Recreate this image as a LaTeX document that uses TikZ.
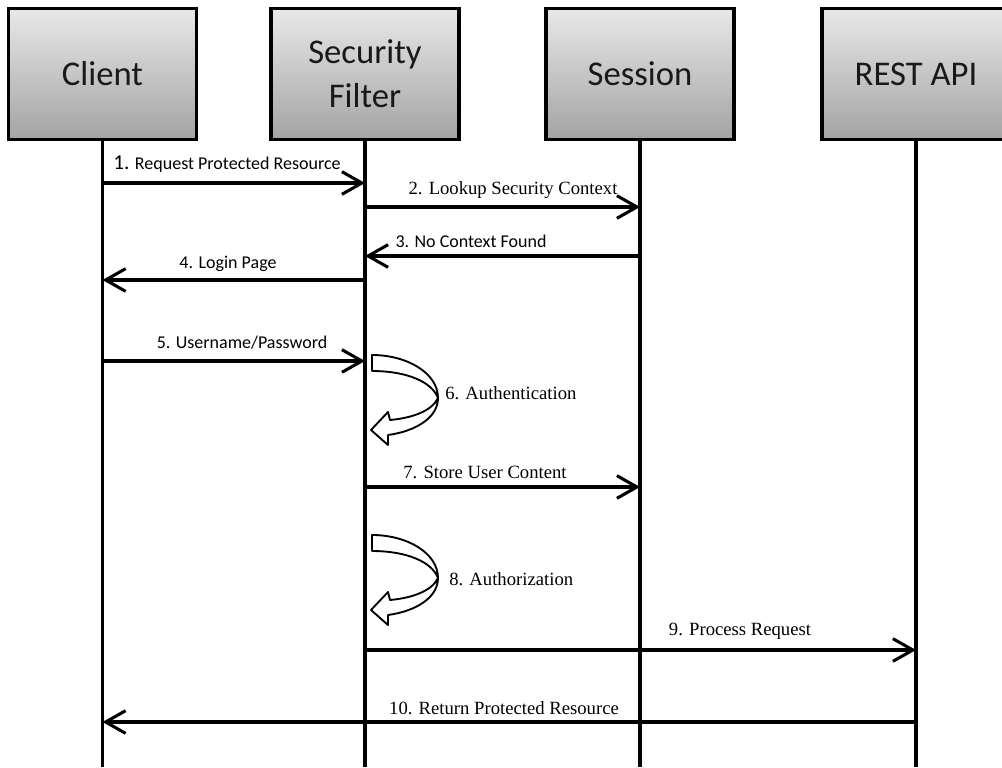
\documentclass[tikz,border=0pt]{standalone}
\usepackage{fontspec}
\setmainfont{Carlito}
\newfontfamily\slabfont{Liberation Serif}
\usetikzlibrary{arrows.meta}

\begin{document}
\begin{tikzpicture}[x=0.75pt,y=-0.75pt,
    actor/.style={draw, line width=2.3pt, top color=black!9, bottom color=black!36, minimum width=141pt, minimum height=98pt, align=center, font=\fontsize{26}{33}\selectfont, text=black!90},
    life/.style={line width=2.3pt},
    msg/.style={line width=2.3pt, -{Straight Barb[length=15pt,width=17pt]}},
    lbl/.style={font=\fontsize{13.5}{16}\selectfont, text=black, inner sep=0pt},
    slbl/.style={font=\slabfont\fontsize{14}{16}\selectfont, text=black, inner sep=0pt},
    selfcall/.pic={
      \draw[line width=1.4pt, fill=white, line join=round]
        (0,16) .. controls (35,16) and (60,27) .. (66,43)
        .. controls (60,56) and (40,63) .. (18,65)
        -- (16,57) -- (-1,75) -- (16,90) -- (16,80)
        .. controls (45,76) and (66,62) .. (66,43)
        .. controls (66,18) and (35,0) .. (0,0) -- cycle;
    }
  ]
  \clip (0,0) rectangle (1002,767);

  % participants
  \node[actor] (client)  at (102.5,74) {Client};
  \node[actor] (filter)  at (365,74)   {Security\\Filter};
  \node[actor] (session) at (640,74)   {Session};
  \node[actor] (rest)    at (916,74)   {REST API};

  % lifelines
  \coordinate (bot) at (0,767);
  \foreach \p in {client,filter,session,rest}
    \draw[life] (\p.south) -- (\p.south |- bot);

  % messages
  \draw[msg] (client |- 0,183) -- (filter |- 0,183);
  \node[lbl] (l1) at (227,164) {{\fontsize{16}{16}\selectfont 1.} Request Protected Resource};

  \draw[msg] (filter |- 0,207) -- (session |- 0,207);
  \node[slbl] (l2) at (513,190) {2. Lookup Security Context};

  \draw[msg] (session |- 0,256) -- (filter |- 0,256);
  \node[lbl] (l3) at (471,241) {3. No Context Found};

  \draw[msg] (filter |- 0,280) -- (client |- 0,280);
  \node[lbl] (l4) at (228,264) {4. Login Page};

  \draw[msg] (client |- 0,361) -- (filter |- 0,361);
  \node[lbl] (l5) at (242,343) {5. Username/Password};

  \pic (auth) at (372,355) {selfcall};
  \node[slbl, anchor=west] (l6) at (445,393) {6. Authentication};

  \draw[msg] (filter |- 0,487) -- (session |- 0,487);
  \node[slbl] (l7) at (485,472) {7. Store User Content};

  \pic (authz) at (372,535) {selfcall};
  \node[slbl, anchor=west] (l8) at (449,579) {8. Authorization};

  \draw[msg] (filter |- 0,650) -- (rest |- 0,650);
  \node[slbl] (l9) at (740,631) {9. Process Request};

  \draw[msg] (rest |- 0,722) -- (client |- 0,722);
  \node[slbl] (l10) at (504,708) {10. Return Protected Resource};
\end{tikzpicture}
\end{document}
